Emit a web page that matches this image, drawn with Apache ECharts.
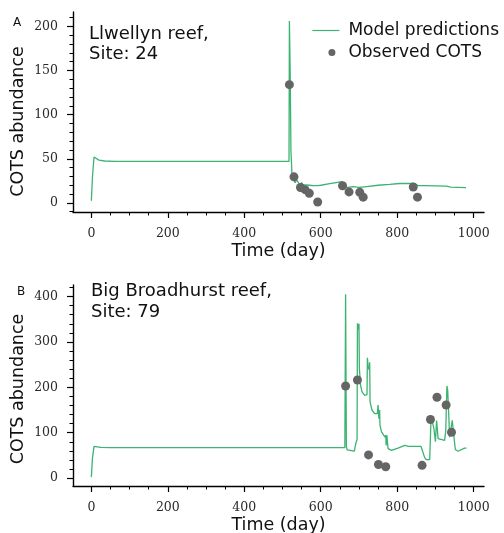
<!DOCTYPE html>
<html>
<head>
<meta charset="utf-8">
<script src="https://cdn.jsdelivr.net/npm/echarts@6/dist/echarts.min.js"></script>
<style>
html,body{margin:0;padding:0;background:#fff;}
#chart{width:504px;height:533px;}
</style>
</head>
<body>
<div id="chart"></div>
<script>
// ---- Data ----
const xMajorTicks = [0, 200, 400, 600, 800, 1000];
const xMinorTicks = [50, 100, 150, 250, 300, 350, 450, 500, 550, 650, 700, 750, 850, 900, 950];
const yMajorTicksA = [0, 50, 100, 150, 200];
const yMinorTicksA = [-10, 10, 20, 30, 40, 60, 70, 80, 90, 110, 120, 130, 140, 160, 170, 180, 190, 210];
const yMajorTicksB = [0, 100, 200, 300, 400];
const yMinorTicksB = [20, 40, 60, 80, 120, 140, 160, 180, 220, 240, 260, 280, 320, 340, 360, 380, 420];

// Panel A: Llwellyn reef, Site 24
const modelA = [
  [0, 2.5], [3, 30], [7, 52], [10, 51], [20, 48.5], [35, 47.5], [60, 47], [517, 47],
  [518, 206], [520, 150], [522, 60], [525, 30], [530, 28], [533, 23], [537, 26],
  [541, 25.5], [546, 20], [550, 23], [554, 20], [560, 20.5], [570, 20], [580, 19.5],
  [590, 19.5], [600, 20], [620, 21.5], [640, 23], [656, 24.2], [660, 18.5], [670, 17.5],
  [685, 18.5], [700, 17.5], [720, 18.5], [750, 20], [780, 21], [807, 22], [841, 22],
  [848, 21], [855, 19.5], [870, 19.5], [900, 19.3], [929, 19], [940, 17.8], [960, 17.6], [980, 17.4]
];
const observedA = [
  [518, 134], [530, 29.5], [547, 17.5], [559, 15], [570, 11], [592, 1],
  [657, 19.5], [674, 12.5], [702, 12], [711, 6.5], [842, 18], [853, 6.5]
];

// Panel B: Big Broadhurst reef, Site 79
const modelB = [
  [0, 2], [3, 45], [7, 70], [12, 69], [25, 67.5], [50, 67], [663, 67], [665, 405],
  [667, 70], [669, 62], [673, 59.5], [688, 59.5], [690, 70], [693, 80], [695, 85],
  [696, 341], [698, 327], [700, 340], [701, 242], [704, 205], [708, 190], [715, 182],
  [721, 184], [722, 265], [724, 245], [727, 238], [728, 255], [729, 168], [734, 150],
  [741, 142], [748, 142], [750, 161], [752, 131], [754, 150], [755, 116], [759, 102],
  [768, 90], [770, 95], [771, 72], [773, 94], [776, 65], [785, 61], [802, 66], [820, 72],
  [830, 70], [862, 70], [872, 45], [876, 40.5], [885, 40.5], [888, 120], [891, 127],
  [896, 109], [900, 80], [903, 127], [907, 87], [911, 83], [924, 83], [927, 105],
  [930, 203], [932, 194], [935, 135], [937, 90], [940, 88], [944, 127], [948, 94],
  [952, 63], [959, 59], [976, 66], [981, 66]
];
const observedB = [
  [665, 203], [696, 216], [725, 51], [751, 30], [770, 25], [865, 28],
  [887, 129], [904, 178], [928, 161], [942, 101]
];

// ---- Chart ----
const chart = echarts.init(document.getElementById('chart'), null, {renderer: 'canvas'});
const lineColor = '#3cb371';
const dotColor = '#656565';
const tickFont = {fontFamily: 'DejaVu Serif', fontSize: 12.5, color: '#2a2a2a', formatter: v => String(v)};
const titleFont = {fontFamily: 'DejaVu Sans', fontSize: 17.5, color: '#111'};
const axisLine = {show: true, onZero: false, lineStyle: {color: '#000', width: 1.4}};

function majorX(grid) {
  return {
    type: 'value', gridIndex: grid, min: -48, max: 1027, position: 'bottom',
    axisLine: axisLine,
    axisTick: {show: true, length: 6, customValues: xMajorTicks, lineStyle: {color: '#000', width: 1.2}},
    axisLabel: Object.assign({customValues: xMajorTicks, margin: 15}, tickFont),
    splitLine: {show: false},
    name: 'Time (day)', nameLocation: 'middle', nameGap: 30, nameTextStyle: titleFont
  };
}
function minorX(grid) {
  return {
    type: 'value', gridIndex: grid, min: -48, max: 1027, position: 'bottom',
    axisLine: {show: false, onZero: false},
    axisTick: {show: true, length: 3.5, customValues: xMinorTicks, lineStyle: {color: '#000', width: 1}},
    axisLabel: {show: false}, splitLine: {show: false}
  };
}
function majorY(grid, min, max, ticks, pad) {
  return {
    type: 'value', gridIndex: grid, min: min, max: max, position: 'left',
    axisLine: axisLine,
    axisTick: {show: true, length: 6, customValues: ticks, lineStyle: {color: '#000', width: 1.2}},
    axisLabel: Object.assign({customValues: ticks, margin: 15}, tickFont),
    splitLine: {show: false},
    name: 'COTS abundance', nameLocation: 'middle', nameGap: 46, nameMoveOverlap: false,
    nameTextStyle: Object.assign({padding: [0, pad, 0, 0]}, titleFont)
  };
}
function minorY(grid, min, max, ticks) {
  return {
    type: 'value', gridIndex: grid, min: min, max: max, position: 'left',
    axisLine: {show: false, onZero: false},
    axisTick: {show: true, length: 3.5, customValues: ticks, lineStyle: {color: '#000', width: 1}},
    axisLabel: {show: false}, splitLine: {show: false}
  };
}

const option = {
  animation: false,
  backgroundColor: '#fff',
  grid: [
    {left: 73, top: 12, width: 411, height: 200, containLabel: false, outerBoundsMode: 'none'},
    {left: 73, top: 285, width: 411, height: 201, containLabel: false, outerBoundsMode: 'none'}
  ],
  xAxis: [majorX(0), minorX(0), majorX(1), minorX(1)],
  yAxis: [
    majorY(0, -10.3, 216.3, yMajorTicksA, 19), minorY(0, -10.3, 216.3, yMinorTicksA),
    majorY(1, -17.5, 425.5, yMajorTicksB, 7), minorY(1, -17.5, 425.5, yMinorTicksB)
  ],
  legend: {
    orient: 'vertical', right: 5, top: 22, padding: 0,
    itemWidth: 27, itemHeight: 7, itemGap: 5,
    textStyle: {fontFamily: 'DejaVu Sans', fontSize: 17, color: '#111', lineHeight: 17, padding: [0, 0, 0, 4]},
    data: [
      {name: 'Model predictions', icon: 'path://M0,0 M27,7 M0,2.9 L27,2.9 L27,4.1 L0,4.1 Z'},
      {name: 'Observed COTS', icon: 'path://M0,0 M27,7 M19.5,0 A3.5,3.5 0 1,1 19.5,7 A3.5,3.5 0 1,1 19.5,0 Z'}
    ]
  },
  graphic: [
    {type: 'text', left: 13, top: 17, style: {text: 'A', fontFamily: 'DejaVu Sans', fontSize: 12, fill: '#111'}},
    {type: 'text', left: 17, top: 286, style: {text: 'B', fontFamily: 'DejaVu Sans', fontSize: 12, fill: '#111'}},
    {type: 'text', left: 89, top: 24, style: {text: 'Llwellyn reef,\nSite: 24', fontFamily: 'DejaVu Sans', fontSize: 18, lineHeight: 20.5, fill: '#111'}},
    {type: 'text', left: 91, top: 281, style: {text: 'Big Broadhurst reef,\nSite: 79', fontFamily: 'DejaVu Sans', fontSize: 18, lineHeight: 21, fill: '#111'}}
  ],
  series: [
    {name: 'Model predictions', type: 'line', xAxisIndex: 0, yAxisIndex: 0, data: modelA,
     symbol: 'none', showSymbol: false, lineStyle: {color: lineColor, width: 1.3}, itemStyle: {color: lineColor}, z: 2},
    {name: 'Observed COTS', type: 'scatter', xAxisIndex: 0, yAxisIndex: 0, data: observedA,
     symbolSize: 9, itemStyle: {color: dotColor, opacity: 1}, z: 3},
    {name: 'Model predictions', type: 'line', xAxisIndex: 2, yAxisIndex: 2, data: modelB,
     symbol: 'none', showSymbol: false, lineStyle: {color: lineColor, width: 1.3}, itemStyle: {color: lineColor}, z: 2},
    {name: 'Observed COTS', type: 'scatter', xAxisIndex: 2, yAxisIndex: 2, data: observedB,
     symbolSize: 9, itemStyle: {color: dotColor, opacity: 1}, z: 3}
  ]
};
chart.setOption(option);
</script>
</body>
</html>
